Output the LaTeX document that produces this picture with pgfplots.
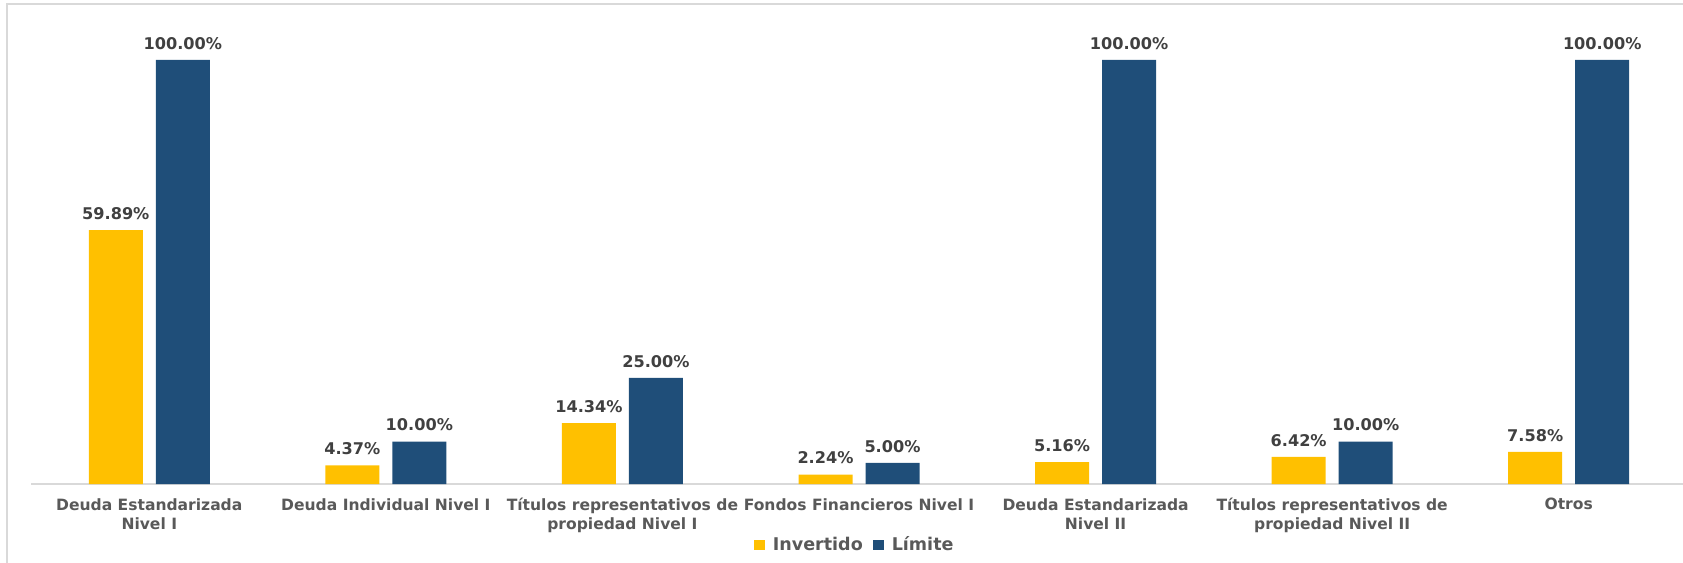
\documentclass[border=0pt]{standalone}
\usepackage{pgfplots}
\pgfplotsset{compat=1.18}
\usepackage{fontspec}
\setmainfont{DejaVu Sans}
\definecolor{invcol}{HTML}{FFC000}
\definecolor{limcol}{HTML}{1F4E79}
\definecolor{labgray}{HTML}{595959}
\definecolor{valgray}{HTML}{404040}
\definecolor{framegray}{HTML}{D9D9D9}

\begin{document}
\begin{tikzpicture}
% outer chart frame (right and bottom edges fall outside the page)
\draw[framegray, line width=0.75bp] (3.5bp,-20bp) rectangle (900bp,279.5bp);
\begin{axis}[
    at={(15.5bp,39.5bp)}, anchor=south west,
    scale only axis,
    width=828bp, height=212bp,
    ybar=6.5bp, bar width=27bp,
    ymin=0, ymax=100,
    xmin=-0.5, xmax=6.5,
    clip=false,
    axis y line=none,
    axis x line*=bottom,
    x axis line style={framegray, line width=0.75bp},
    xtick=data,
    xtick style={draw=none},
    major tick length=0pt,
    xticklabels={
        {Deuda Estandarizada\\Nivel I},
        {Deuda Individual Nivel I},
        {Títulos representativos de\\propiedad Nivel I},
        {Fondos Financieros Nivel I},
        {Deuda Estandarizada\\Nivel II},
        {Títulos representativos de\\propiedad Nivel II},
        {Otros}},
    xticklabel style={align=center, text=labgray,
        font=\bfseries\fontsize{7.8}{9.6}\selectfont, yshift=-3.7bp},
    /pgf/number format/assume math mode=true,
    nodes near coords={\pgfmathprintnumber[fixed,fixed zerofill,precision=2]{\pgfplotspointmeta}\%},
    nodes near coords style={font=\bfseries\fontsize{8.1}{9}\selectfont,
        text=valgray, anchor=south, inner sep=0pt, yshift=5bp},
    legend columns=2,
    legend style={at={(0.498,-0.144)}, anchor=center, draw=none, fill=none,
        font=\bfseries\fontsize{8.8}{10}\selectfont, text=labgray,
        /tikz/every even column/.append style={column sep=3bp}},
    legend image code/.code={\path[#1] (0bp,-2.7bp) rectangle (5.4bp,2.7bp);
        \path (7.5bp,0bp);},
]
% Invertido
\addplot[fill=invcol, draw=none] coordinates {
    (0,59.89) (1,4.37) (2,14.34) (3,2.24) (4,5.16) (5,6.42) (6,7.58)};
% Limite
\addplot[fill=limcol, draw=none] coordinates {
    (0,100) (1,10) (2,25) (3,5) (4,100) (5,10) (6,100)};
\legend{Invertido, Límite}
\end{axis}
\pgfresetboundingbox
\useasboundingbox (0bp,0bp) rectangle (841.5bp,281.5bp);
\end{tikzpicture}
\end{document}
